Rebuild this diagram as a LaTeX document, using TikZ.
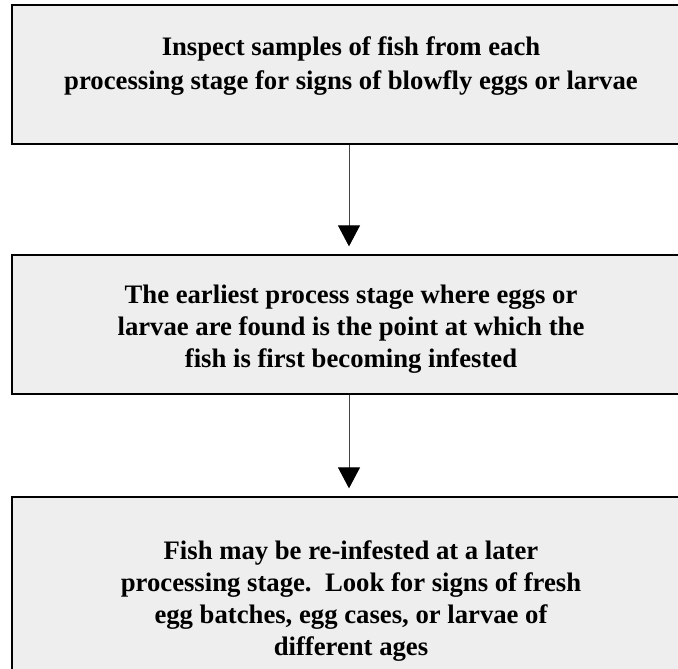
\documentclass[tikz,border=0pt]{standalone}
\usepackage{fontspec}
\setmainfont{Liberation Serif}
\usetikzlibrary{arrows.meta}
\begin{document}
\begin{tikzpicture}[x=1pt,y=1pt,
  stepbox/.style={draw=black, line width=1.3pt, fill=boxgray, inner sep=0pt},
  txt/.style={align=center, inner sep=0pt, anchor=base},
  arr/.style={draw=linegray, line width=1pt, -{Triangle[width=22pt,length=21pt,color=black]}, shorten >=8pt}]
\definecolor{boxgray}{HTML}{EEEEEE}
\definecolor{linegray}{HTML}{444444}
\useasboundingbox (0,0) rectangle (678,-669);
\clip (0,0) rectangle (678,-669);
\fill[white] (0,0) rectangle (678,-669);
\node[stepbox, minimum width=672pt, minimum height=139pt] (b1) at (348,-74.5) {};
\node[stepbox, minimum width=672pt, minimum height=139pt] (b2) at (348,-324.5) {};
\node[stepbox, minimum width=672pt, minimum height=220pt] (b3) at (348,-607) {};
\node[txt, font=\bfseries\fontsize{26.7}{34}\selectfont] (t1) at (351,-90) {Inspect samples of fish from each\\processing stage for signs of blowfly eggs or larvae};
\node[txt, font=\bfseries\fontsize{26.7}{32}\selectfont] (t2) at (351,-367) {The earliest process stage where eggs or\\larvae are found is the point at which the\\fish is first becoming infested};
\node[txt, font=\bfseries\fontsize{26.7}{32}\selectfont] (t3) at (351,-655) {Fish may be re-infested at a later\\processing stage.\ \ Look for signs of fresh\\egg batches, egg cases, or larvae of\\different ages};
\draw[arr] (b1.south -| 349,0) -- (b2.north -| 349,0);
\draw[arr] (b2.south -| 349,0) -- (b3.north -| 349,0);
\end{tikzpicture}
\end{document}
